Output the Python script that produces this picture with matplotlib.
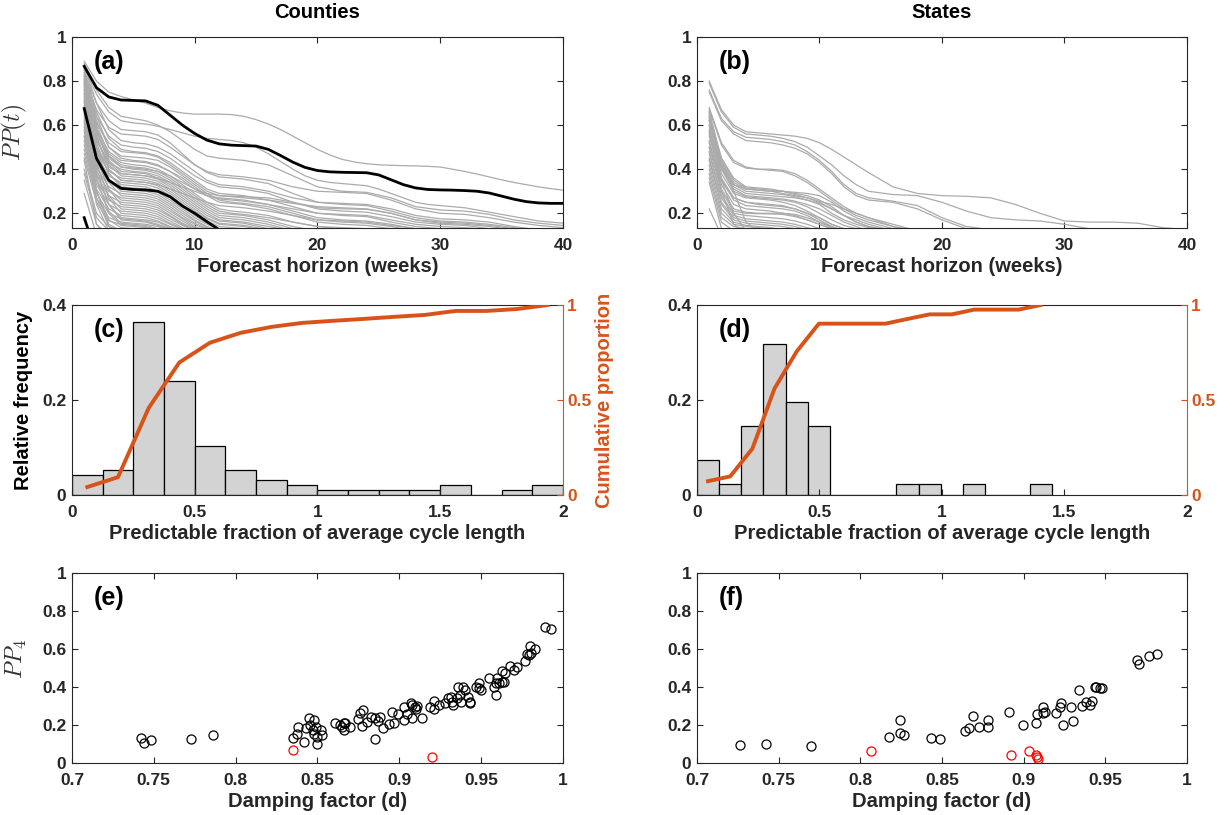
import matplotlib
matplotlib.use("Agg")
import matplotlib.pyplot as plt
import numpy as np

# ---- data -------------------------------------------------------------
weeks = [1, 2, 3, 4, 5, 6, 7, 8, 9, 10, 11, 12, 13, 14, 16, 18, 20, 22, 24,
         26, 28, 30, 32, 34, 36, 38, 40]
all_weeks = list(range(1, 41))

# PP(t) per county (truncated once a curve leaves the plotted range)
county_long_curves = [
    [0.89, 0.80, 0.75, 0.73, 0.715, 0.70, 0.68, 0.665, 0.655, 0.65, 0.65, 0.65, 0.648, 0.64, 0.625, 0.605, 0.58, 0.55, 0.52, 0.49,
     0.465, 0.445, 0.433, 0.425, 0.42, 0.418, 0.416, 0.415, 0.413, 0.41, 0.40, 0.39, 0.378, 0.365, 0.352, 0.34, 0.33, 0.32, 0.312, 0.305],
    [0.86, 0.74, 0.66, 0.62, 0.61, 0.605, 0.595, 0.58, 0.565, 0.55, 0.54, 0.535, 0.53, 0.52, 0.50, 0.47, 0.435, 0.40, 0.37, 0.35,
     0.34, 0.335, 0.33, 0.325, 0.31, 0.29, 0.27, 0.25, 0.24, 0.235, 0.23, 0.225, 0.215, 0.205, 0.195, 0.185, 0.175, 0.165, 0.16, 0.155],
]

county_curves = [
    [0.88, 0.76, 0.68, 0.64, 0.63, 0.62, 0.60, 0.57, 0.53, 0.49, 0.46, 0.45, 0.445, 0.44, 0.42, 0.37, 0.32, 0.30, 0.295, 0.27, 0.23, 0.215, 0.21, 0.195, 0.17, 0.155, 0.145],
    [0.84, 0.70, 0.62, 0.58, 0.575, 0.57, 0.555, 0.52, 0.47, 0.42, 0.39, 0.375, 0.37, 0.365, 0.35, 0.32, 0.30, 0.295, 0.29, 0.26, 0.22, 0.20, 0.195, 0.18, 0.16, 0.145, 0.135],
    [0.82, 0.67, 0.59, 0.56, 0.555, 0.55, 0.535, 0.50, 0.46, 0.42, 0.385, 0.365, 0.36, 0.355, 0.335, 0.29, 0.25, 0.24, 0.235, 0.21, 0.18, 0.165, 0.16, 0.15, 0.135, 0.12],
    [0.87, 0.70, 0.58, 0.53, 0.52, 0.515, 0.50, 0.47, 0.43, 0.39, 0.35, 0.33, 0.325, 0.32, 0.30, 0.27, 0.25, 0.245, 0.24, 0.22, 0.19, 0.175, 0.17, 0.16, 0.14, 0.125],
    [0.80, 0.64, 0.55, 0.51, 0.50, 0.495, 0.48, 0.45, 0.41, 0.37, 0.34, 0.32, 0.315, 0.31, 0.29, 0.25, 0.22, 0.21, 0.205, 0.185, 0.16, 0.15, 0.145, 0.13, 0.12],
    [0.85, 0.66, 0.54, 0.49, 0.48, 0.475, 0.46, 0.43, 0.39, 0.35, 0.31, 0.29, 0.285, 0.28, 0.26, 0.23, 0.20, 0.19, 0.185, 0.16, 0.14, 0.13, 0.125],
    [0.78, 0.61, 0.52, 0.48, 0.475, 0.47, 0.455, 0.42, 0.38, 0.34, 0.30, 0.28, 0.275, 0.27, 0.26, 0.245, 0.23, 0.225, 0.22, 0.20, 0.17, 0.155, 0.15, 0.14, 0.125],
    [0.83, 0.62, 0.50, 0.46, 0.455, 0.45, 0.44, 0.41, 0.37, 0.33, 0.29, 0.26, 0.25, 0.245, 0.23, 0.20, 0.17, 0.16, 0.155, 0.14, 0.12],
    [0.76, 0.58, 0.48, 0.44, 0.435, 0.43, 0.415, 0.39, 0.36, 0.32, 0.28, 0.25, 0.245, 0.24, 0.22, 0.19, 0.16, 0.15, 0.145, 0.13, 0.115],
    [0.81, 0.60, 0.47, 0.43, 0.42, 0.415, 0.40, 0.37, 0.33, 0.29, 0.25, 0.22, 0.21, 0.205, 0.19, 0.16, 0.14, 0.13, 0.125],
    [0.74, 0.56, 0.46, 0.42, 0.41, 0.405, 0.39, 0.36, 0.32, 0.28, 0.24, 0.21, 0.20, 0.195, 0.18, 0.16, 0.14, 0.135, 0.13, 0.12],
    [0.79, 0.57, 0.45, 0.41, 0.40, 0.395, 0.38, 0.35, 0.31, 0.27, 0.23, 0.20, 0.195, 0.19, 0.17, 0.14, 0.12],
    [0.72, 0.53, 0.43, 0.40, 0.39, 0.385, 0.37, 0.34, 0.30, 0.26, 0.22, 0.19, 0.185, 0.18, 0.16, 0.13, 0.11],
    [0.84, 0.58, 0.44, 0.39, 0.385, 0.38, 0.36, 0.33, 0.29, 0.25, 0.21, 0.18, 0.175, 0.17, 0.15, 0.12],
    [0.70, 0.50, 0.41, 0.38, 0.375, 0.37, 0.355, 0.32, 0.28, 0.24, 0.20, 0.17, 0.165, 0.16, 0.14, 0.12],
    [0.77, 0.54, 0.42, 0.37, 0.365, 0.36, 0.345, 0.31, 0.27, 0.23, 0.19, 0.165, 0.16, 0.155, 0.13, 0.11],
    [0.68, 0.48, 0.39, 0.36, 0.355, 0.35, 0.335, 0.30, 0.26, 0.22, 0.18, 0.155, 0.15, 0.145, 0.125],
    [0.82, 0.55, 0.40, 0.35, 0.345, 0.34, 0.325, 0.29, 0.25, 0.21, 0.175, 0.15, 0.145, 0.14, 0.12],
    [0.66, 0.46, 0.37, 0.34, 0.335, 0.33, 0.315, 0.28, 0.24, 0.20, 0.165, 0.14, 0.135, 0.13, 0.11],
    [0.75, 0.50, 0.38, 0.33, 0.325, 0.32, 0.30, 0.27, 0.23, 0.19, 0.155, 0.13, 0.125],
    [0.80, 0.52, 0.38, 0.32, 0.315, 0.31, 0.295, 0.26, 0.22, 0.18, 0.15, 0.125],
    [0.63, 0.43, 0.34, 0.31, 0.305, 0.30, 0.285, 0.25, 0.21, 0.17, 0.14, 0.12],
    [0.73, 0.48, 0.35, 0.30, 0.295, 0.29, 0.275, 0.24, 0.20, 0.165, 0.135, 0.12],
    [0.61, 0.41, 0.32, 0.29, 0.285, 0.28, 0.265, 0.23, 0.19, 0.155, 0.13],
    [0.78, 0.49, 0.34, 0.28, 0.275, 0.27, 0.255, 0.22, 0.18, 0.15, 0.125],
    [0.59, 0.39, 0.30, 0.27, 0.265, 0.26, 0.245, 0.21, 0.175, 0.14, 0.12],
    [0.71, 0.45, 0.31, 0.26, 0.255, 0.25, 0.235, 0.20, 0.165, 0.135, 0.115],
    [0.57, 0.37, 0.28, 0.25, 0.245, 0.24, 0.225, 0.19, 0.155, 0.13],
    [0.76, 0.46, 0.31, 0.24, 0.235, 0.23, 0.215, 0.185, 0.15, 0.125],
    [0.55, 0.35, 0.26, 0.23, 0.225, 0.22, 0.205, 0.175, 0.145, 0.12],
    [0.69, 0.42, 0.28, 0.22, 0.215, 0.21, 0.195, 0.165, 0.135, 0.115],
    [0.53, 0.33, 0.24, 0.21, 0.205, 0.20, 0.185, 0.155, 0.13],
    [0.74, 0.43, 0.27, 0.20, 0.195, 0.19, 0.175, 0.15, 0.125],
    [0.51, 0.31, 0.22, 0.19, 0.185, 0.18, 0.165, 0.14, 0.12],
    [0.65, 0.38, 0.24, 0.18, 0.175, 0.17, 0.16, 0.135, 0.115],
    [0.49, 0.29, 0.20, 0.175, 0.17, 0.165, 0.15, 0.13],
    [0.71, 0.40, 0.24, 0.17, 0.165, 0.16, 0.145, 0.125],
    [0.47, 0.27, 0.18, 0.16, 0.155, 0.15, 0.14, 0.12],
    [0.62, 0.35, 0.21, 0.155, 0.15, 0.145, 0.13, 0.11],
    [0.45, 0.25, 0.165, 0.15, 0.145, 0.14, 0.125],
    [0.68, 0.36, 0.20, 0.145, 0.14, 0.135, 0.12],
    [0.58, 0.30, 0.17, 0.135, 0.13, 0.125],
    [0.40, 0.20, 0.14, 0.12],
    [0.64, 0.30, 0.15, 0.12],
    [0.38, 0.18, 0.12],
    [0.55, 0.24, 0.12],
    [0.35, 0.15, 0.10],
    [0.29, 0.10],
    [0.44, 0.15, 0.08],
    [0.60, 0.27, 0.14, 0.11],
    [0.86, 0.64, 0.50, 0.45, 0.44, 0.435, 0.42, 0.39, 0.35, 0.31, 0.28, 0.27, 0.265, 0.26, 0.24, 0.21, 0.18, 0.17, 0.165, 0.15, 0.13, 0.12],
    [0.83, 0.60, 0.46, 0.41, 0.405, 0.40, 0.39, 0.37, 0.34, 0.31, 0.29, 0.28, 0.278, 0.275, 0.27, 0.25, 0.225, 0.22, 0.218, 0.20, 0.17, 0.16, 0.155, 0.145, 0.13, 0.12],
    [0.81, 0.57, 0.43, 0.38, 0.375, 0.37, 0.36, 0.34, 0.32, 0.30, 0.28, 0.265, 0.26, 0.255, 0.24, 0.22, 0.20, 0.195, 0.19, 0.17, 0.15, 0.14, 0.135, 0.125],
    [0.79, 0.55, 0.40, 0.35, 0.345, 0.34, 0.33, 0.31, 0.29, 0.27, 0.25, 0.235, 0.23, 0.225, 0.21, 0.19, 0.17, 0.165, 0.16, 0.145, 0.13, 0.12],
]

# highlighted counties (black lines), weekly values
county_black = [
    [0.867, 0.77, 0.728, 0.714, 0.712, 0.71, 0.69, 0.645, 0.60, 0.562, 0.532, 0.515, 0.509, 0.507, 0.505, 0.49, 0.462, 0.432, 0.408, 0.394,
     0.388, 0.386, 0.385, 0.384, 0.374, 0.352, 0.33, 0.315, 0.308, 0.306, 0.305, 0.303, 0.30, 0.292, 0.278, 0.264, 0.253, 0.247, 0.245, 0.245],
    [0.675, 0.449, 0.35, 0.313, 0.308, 0.306, 0.30, 0.275, 0.233, 0.20, 0.162, 0.125],
    [0.18, 0.01],
]

state_curves = [
    [0.80, 0.67, 0.60, 0.57, 0.565, 0.56, 0.555, 0.55, 0.54, 0.52, 0.49, 0.455, 0.42, 0.385, 0.32, 0.29, 0.28, 0.277, 0.27, 0.24, 0.20, 0.165, 0.16, 0.16, 0.155, 0.135, 0.125],
    [0.79, 0.66, 0.59, 0.56, 0.555, 0.55, 0.54, 0.525, 0.50, 0.46, 0.42, 0.37, 0.33, 0.30, 0.285, 0.28, 0.25, 0.21, 0.18, 0.17, 0.165, 0.15, 0.13, 0.12],
    [0.76, 0.63, 0.57, 0.545, 0.54, 0.535, 0.525, 0.51, 0.48, 0.44, 0.39, 0.33, 0.29, 0.27, 0.255, 0.235, 0.18, 0.14, 0.125],
    [0.75, 0.62, 0.56, 0.53, 0.525, 0.52, 0.51, 0.495, 0.47, 0.43, 0.38, 0.32, 0.28, 0.26, 0.25, 0.22, 0.17, 0.13, 0.12],
    [0.68, 0.52, 0.44, 0.41, 0.40, 0.40, 0.395, 0.38, 0.35, 0.31, 0.27, 0.23, 0.20, 0.18, 0.15, 0.12],
    [0.67, 0.51, 0.43, 0.405, 0.40, 0.395, 0.39, 0.37, 0.34, 0.30, 0.26, 0.22, 0.19, 0.17, 0.14, 0.11],
    [0.66, 0.45, 0.35, 0.315, 0.31, 0.305, 0.30, 0.295, 0.29, 0.28, 0.25, 0.21, 0.18, 0.16, 0.13],
    [0.65, 0.44, 0.34, 0.31, 0.305, 0.30, 0.30, 0.29, 0.28, 0.26, 0.23, 0.19, 0.16, 0.14, 0.12],
    [0.64, 0.43, 0.33, 0.30, 0.295, 0.29, 0.285, 0.275, 0.26, 0.24, 0.20, 0.17, 0.15, 0.135, 0.11],
    [0.63, 0.42, 0.32, 0.29, 0.285, 0.28, 0.275, 0.27, 0.26, 0.245, 0.22, 0.19, 0.16, 0.14, 0.11],
    [0.62, 0.41, 0.31, 0.28, 0.275, 0.27, 0.265, 0.255, 0.24, 0.22, 0.19, 0.16, 0.14, 0.12],
    [0.60, 0.40, 0.30, 0.275, 0.27, 0.265, 0.26, 0.25, 0.23, 0.20, 0.17, 0.145, 0.13, 0.12],
    [0.58, 0.38, 0.29, 0.27, 0.265, 0.26, 0.25, 0.235, 0.21, 0.18, 0.15, 0.13],
    [0.56, 0.36, 0.27, 0.25, 0.245, 0.24, 0.235, 0.22, 0.20, 0.17, 0.14, 0.12],
    [0.55, 0.35, 0.26, 0.235, 0.23, 0.225, 0.22, 0.21, 0.19, 0.16, 0.135, 0.12],
    [0.53, 0.33, 0.24, 0.22, 0.215, 0.21, 0.20, 0.19, 0.17, 0.15, 0.13],
    [0.52, 0.31, 0.22, 0.205, 0.20, 0.20, 0.20, 0.195, 0.18, 0.16, 0.14, 0.12],
    [0.50, 0.30, 0.21, 0.20, 0.198, 0.197, 0.195, 0.185, 0.17, 0.15, 0.13],
    [0.48, 0.28, 0.20, 0.19, 0.185, 0.18, 0.175, 0.165, 0.15, 0.13],
    [0.47, 0.27, 0.19, 0.175, 0.17, 0.165, 0.16, 0.15, 0.135, 0.12],
    [0.45, 0.25, 0.18, 0.165, 0.16, 0.155, 0.15, 0.14, 0.125],
    [0.44, 0.24, 0.17, 0.155, 0.15, 0.145, 0.14, 0.13],
    [0.42, 0.22, 0.16, 0.145, 0.14, 0.135, 0.125],
    [0.40, 0.20, 0.15, 0.14, 0.135, 0.13, 0.12],
    [0.38, 0.18, 0.14, 0.13, 0.12],
    [0.36, 0.16, 0.12],
    [0.34, 0.13],
    [0.22, 0.10],
    [0.50, 0.35, 0.27, 0.25, 0.24, 0.235, 0.23, 0.22, 0.20, 0.18, 0.15, 0.13],
    [0.57, 0.40, 0.33, 0.31, 0.305, 0.30, 0.29, 0.28, 0.27, 0.25, 0.22, 0.19, 0.17, 0.15, 0.12],
    [0.62, 0.45, 0.36, 0.32, 0.315, 0.31, 0.30, 0.285, 0.27, 0.255, 0.24, 0.22, 0.20, 0.18, 0.14, 0.12],
    [0.66, 0.43, 0.30, 0.16, 0.12],
    [0.64, 0.35, 0.20, 0.12],
    [0.60, 0.30, 0.15, 0.11],
]

# histograms of predictable fraction of average cycle length
county_bin_width = 0.125
county_freq = [0.042, 0.052, 0.365, 0.240, 0.104, 0.052, 0.031, 0.021,
               0.010, 0.010, 0.010, 0.010, 0.021, 0.0, 0.010, 0.021]
county_cum = [0.042, 0.094, 0.458, 0.698, 0.802, 0.854, 0.885, 0.906,
              0.917, 0.927, 0.938, 0.948, 0.969, 0.969, 0.979, 1.0]

state_bin_width = 0.0905
state_freq = [0.073, 0.024, 0.146, 0.317, 0.195, 0.146, 0.0, 0.0,
              0.0, 0.024, 0.024, 0.0, 0.024, 0.0, 0.0, 0.024]
state_cum = [0.073, 0.098, 0.244, 0.561, 0.756, 0.902, 0.902, 0.902,
             0.902, 0.927, 0.951, 0.951, 0.976, 0.976, 0.976, 1.0]

# damping factor vs PP_4
county_d = [0.742, 0.744, 0.748, 0.773, 0.786, 0.835, 0.8376, 0.838, 0.842, 0.843,
            0.845, 0.8455, 0.847, 0.848, 0.848, 0.849, 0.8497, 0.850, 0.852, 0.853,
            0.861, 0.864, 0.865, 0.866, 0.866, 0.867, 0.870, 0.875, 0.876, 0.878,
            0.877, 0.880, 0.883, 0.885, 0.885, 0.887, 0.888, 0.890, 0.894, 0.8955,
            0.897, 0.899, 0.903, 0.903, 0.905, 0.907, 0.9075, 0.908, 0.9095, 0.911,
            0.910, 0.914, 0.919, 0.921, 0.921, 0.924, 0.928, 0.930, 0.9317, 0.9324,
            0.933, 0.935, 0.936, 0.937, 0.938, 0.939, 0.940, 0.942, 0.943, 0.943,
            0.947, 0.9486, 0.949, 0.950, 0.955, 0.958, 0.959, 0.959, 0.9597, 0.961,
            0.9626, 0.9626, 0.9645, 0.964, 0.9675, 0.970, 0.972, 0.977, 0.978, 0.9795,
            0.980, 0.9807, 0.983, 0.989, 0.9928]
county_pp4 = [0.135, 0.108, 0.121, 0.128, 0.147, 0.131, 0.152, 0.192, 0.114, 0.187,
              0.236, 0.200, 0.175, 0.152, 0.227, 0.192, 0.101, 0.140, 0.175, 0.149,
              0.213, 0.200, 0.192, 0.175, 0.213, 0.210, 0.192, 0.233, 0.266, 0.280,
              0.196, 0.215, 0.245, 0.126, 0.236, 0.224, 0.245, 0.184, 0.206, 0.271,
              0.213, 0.259, 0.297, 0.227, 0.259, 0.315, 0.240, 0.306, 0.297, 0.300,
              0.283, 0.236, 0.297, 0.329, 0.283, 0.306, 0.315, 0.341, 0.350, 0.323,
              0.306, 0.341, 0.399, 0.358, 0.323, 0.399, 0.385, 0.350, 0.323, 0.315,
              0.402, 0.420, 0.393, 0.385, 0.446, 0.399, 0.358, 0.420, 0.446, 0.420,
              0.428, 0.486, 0.472, 0.428, 0.510, 0.490, 0.503, 0.537, 0.572, 0.568,
              0.615, 0.577, 0.598, 0.717, 0.703]
county_red_d = [0.835, 0.920]
county_red_pp4 = [0.070, 0.035]

state_d = [0.7265, 0.742, 0.770, 0.8176, 0.8243, 0.8243, 0.8266, 0.8433, 0.849, 0.864,
           0.8665, 0.869, 0.873, 0.878, 0.878, 0.891, 0.8994, 0.9073, 0.908, 0.912,
           0.912, 0.913, 0.9197, 0.922, 0.923, 0.924, 0.929, 0.930, 0.9337, 0.9356,
           0.938, 0.9404, 0.9416, 0.9435, 0.9445, 0.947, 0.948, 0.9697, 0.9707, 0.9767,
           0.9814]
state_pp4 = [0.096, 0.101, 0.091, 0.140, 0.227, 0.161, 0.147, 0.133, 0.128, 0.170,
             0.184, 0.248, 0.190, 0.227, 0.190, 0.271, 0.203, 0.213, 0.259, 0.294,
             0.266, 0.271, 0.262, 0.297, 0.315, 0.201, 0.295, 0.222, 0.385, 0.300,
             0.323, 0.306, 0.329, 0.399, 0.402, 0.397, 0.397, 0.542, 0.521, 0.565,
             0.572]
state_red_d = [0.8068, 0.892, 0.9034, 0.9077, 0.9087, 0.9085]
state_red_pp4 = [0.066, 0.045, 0.066, 0.045, 0.024, 0.035]

# ---- style ------------------------------------------------------------
plt.rcParams["font.family"] = ["Liberation Sans", "DejaVu Sans"]
plt.rcParams["font.weight"] = "bold"
plt.rcParams["axes.labelweight"] = "bold"
plt.rcParams["mathtext.fontset"] = "cm"

DARK = "#262626"
ORANGE = "#D95319"
LINE_GRAY = "#ababab"
BAR_GRAY = "#d3d3d3"
TICK_SIZE = 12.5
LABEL_SIZE = 14.5


def matlab_box(ax, right=True, top=True):
    for side in ax.spines.values():
        side.set_color(DARK)
        side.set_linewidth(0.8)
    ax.tick_params(direction="in", length=4, width=0.8, colors=DARK,
                   labelsize=TICK_SIZE, top=top, right=right, pad=4)
    ax.tick_params(axis="x", pad=7)


def set_ticks(ax, xt, xl, yt, yl):
    ax.set_xticks(xt)
    ax.set_xticklabels(xl, fontweight="bold")
    ax.set_yticks(yt)
    ax.set_yticklabels(yl, fontweight="bold")


def panel_tag(ax, tag, x=0.045):
    ax.text(x, 0.93, tag, transform=ax.transAxes, ha="left", va="top",
            fontsize=18, fontweight="bold", color="black")


fig = plt.figure(figsize=(12.32, 8.15), dpi=100)
left_x, right_x = 0.0584, 0.5657
w_left, w_right = 0.3985, 0.3977
ax_a = fig.add_axes([left_x, 0.7202, w_left, 0.2344])
ax_b = fig.add_axes([right_x, 0.7202, w_right, 0.2344])
ax_c = fig.add_axes([left_x, 0.3926, w_left, 0.2331])
ax_d = fig.add_axes([right_x, 0.3926, w_right, 0.2331])
ax_e = fig.add_axes([left_x, 0.0634, w_left, 0.2339])
ax_f = fig.add_axes([right_x, 0.0634, w_right, 0.2339])

# ---- (a), (b): PP(t) curves -------------------------------------------
for c in county_long_curves:
    ax_a.plot(all_weeks[:len(c)], c, color=LINE_GRAY, lw=0.9)

for ax, curves, tag, title in [(ax_a, county_curves, "(a)", "Counties"),
                               (ax_b, state_curves, "(b)", "States")]:
    for c in curves:
        ax.plot(weeks[:len(c)], c, color=LINE_GRAY, lw=0.9)
    ax.set_xlim(0, 40)
    ax.set_ylim(0.133, 1)
    set_ticks(ax, [0, 10, 20, 30, 40], ["0", "10", "20", "30", "40"],
              [0.2, 0.4, 0.6, 0.8, 1.0], ["0.2", "0.4", "0.6", "0.8", "1"])
    matlab_box(ax)
    ax.set_xlabel("Forecast horizon (weeks)", fontsize=LABEL_SIZE, color=DARK, labelpad=3)
    ax.set_title(title, fontsize=LABEL_SIZE, fontweight="bold", pad=14)
    panel_tag(ax, tag)

for c in county_black:
    ax_a.plot(all_weeks[:len(c)], c, color="black", lw=2.0)
ax_a.set_ylabel(r"$PP(t)$", fontsize=17, color="#333333")
ax_a.yaxis.set_label_coords(-0.088, 0.5)

# ---- (c), (d): histograms with cumulative proportion -------------------
for ax, freq, cum, bw, tag in [(ax_c, county_freq, county_cum, county_bin_width, "(c)"),
                               (ax_d, state_freq, state_cum, state_bin_width, "(d)")]:
    edges = np.arange(len(freq)) * bw
    centers = edges + bw / 2
    ax.bar(edges, freq, width=bw, align="edge", color=BAR_GRAY,
           edgecolor="black", linewidth=0.9, zorder=1)
    ax.set_xlim(0, 2)
    ax.set_ylim(0, 0.4)
    set_ticks(ax, [0, 0.5, 1, 1.5, 2], ["0", "0.5", "1", "1.5", "2"],
              [0, 0.2, 0.4], ["0", "0.2", "0.4"])
    matlab_box(ax, right=False, top=False)
    ax.spines["right"].set_visible(False)
    ax.set_xlabel("Predictable fraction of average cycle length",
                  fontsize=LABEL_SIZE, color=DARK, labelpad=3)
    panel_tag(ax, tag)

    ax2 = ax.twinx()
    ax2.plot(centers, cum, color=ORANGE, lw=2.8, zorder=3)
    ax2.set_ylim(0, 1)
    ax2.set_yticks([0, 0.5, 1])
    ax2.set_yticklabels(["0", "0.5", "1"], fontweight="bold")
    ax2.tick_params(direction="in", length=4, width=0.8, colors=ORANGE,
                    labelsize=TICK_SIZE, pad=3)
    for name, side in ax2.spines.items():
        side.set_visible(name == "right")
    ax2.spines["right"].set_color(ORANGE)
    ax2.spines["right"].set_linewidth(0.8)
    if ax is ax_c:
        ax2.set_ylabel("Cumulative proportion", fontsize=LABEL_SIZE,
                       color=ORANGE, fontweight="bold")
        ax2.yaxis.set_label_coords(1.066, 0.5)

ax_c.set_ylabel("Relative frequency", fontsize=LABEL_SIZE, color="black")
ax_c.yaxis.set_label_coords(-0.079, 0.5)

# ---- (e), (f): damping factor scatter ----------------------------------
for ax, dx, dy, rx, ry, tag in [(ax_e, county_d, county_pp4, county_red_d, county_red_pp4, "(e)"),
                                (ax_f, state_d, state_pp4, state_red_d, state_red_pp4, "(f)")]:
    ax.plot(dx, dy, "o", mfc="none", mec="black", ms=6.5, mew=0.9)
    ax.plot(rx, ry, "o", mfc="none", mec="red", ms=6.5, mew=0.9)
    ax.set_xlim(0.7, 1)
    ax.set_ylim(0, 1)
    set_ticks(ax, [0.7, 0.75, 0.8, 0.85, 0.9, 0.95, 1.0],
              ["0.7", "0.75", "0.8", "0.85", "0.9", "0.95", "1"],
              [0, 0.2, 0.4, 0.6, 0.8, 1.0], ["0", "0.2", "0.4", "0.6", "0.8", "1"])
    matlab_box(ax)
    ax.set_xlabel("Damping factor (d)", fontsize=LABEL_SIZE, color=DARK, labelpad=3)
    panel_tag(ax, tag)

ax_e.set_ylabel(r"$PP_4$", fontsize=17, color="#333333")
ax_e.yaxis.set_label_coords(-0.088, 0.55)

fig.savefig("out.png", dpi=100)
